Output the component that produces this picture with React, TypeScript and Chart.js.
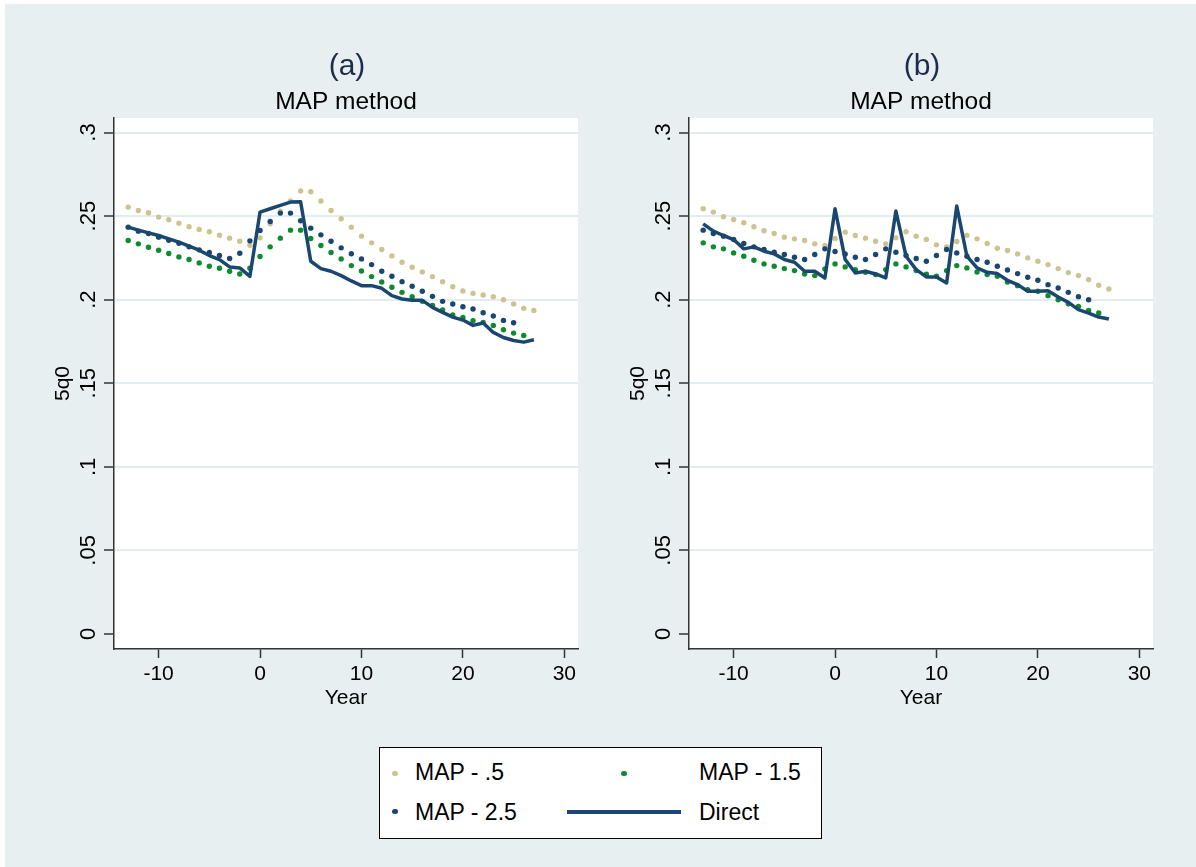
import React, { useEffect, useRef } from "react";
import { Chart, registerables } from "chart.js";
Chart.register(...registerables);

const years = [-13, -12, -11, -10, -9, -8, -7, -6, -5, -4, -3, -2, -1, 0, 1, 2, 3, 4, 5, 6, 7, 8, 9, 10, 11, 12, 13, 14, 15, 16, 17, 18, 19, 20, 21, 22, 23, 24, 25, 26, 27];

// Panel (a)
const aMap05 = [.2554, .2534, .2520, .2494, .2478, .2458, .2436, .2420, .2406, .2386, .2368, .2350, .2326, .2370, .2454, .2530, .2590, .2650, .2646, .2590, .2534, .2484, .2434, .2380, .2340, .2300, .2262, .2224, .2194, .2166, .2138, .2108, .2078, .2052, .2038, .2028, .2018, .2000, .1974, .1948, .1936];
const aMap15 = [.2354, .2334, .2314, .2296, .2276, .2256, .2240, .2220, .2200, .2188, .2170, .2154, .2188, .2258, .2316, .2368, .2416, .2416, .2366, .2324, .2282, .2244, .2204, .2172, .2138, .2106, .2074, .2044, .2018, .1990, .1966, .1938, .1908, .1894, .1874, .1864, .1846, .1820, .1800, .1786, null];
const aMap25 = [.2434, .2410, .2396, .2374, .2356, .2338, .2316, .2298, .2282, .2264, .2246, .2278, .2352, .2414, .2468, .2518, .2518, .2472, .2428, .2388, .2350, .2310, .2275, .2244, .2210, .2170, .2140, .2108, .2080, .2050, .2020, .1990, .1974, .1958, .1944, .1922, .1902, .1876, .1862, null, null];
const aDirect = [.2434, .2416, .2400, .2384, .2364, .2344, .2320, .2296, .2264, .2240, .2196, .2190, .2140, .2524, .2544, .2564, .2584, .2586, .2230, .2186, .2170, .2144, .2112, .2084, .2084, .2068, .2024, .2004, .1996, .1996, .1954, .1924, .1896, .1878, .1846, .1860, .1804, .1774, .1756, .1746, .1760];

// Panel (b)
const bMap05 = [.2544, .2524, .2496, .2480, .2460, .2436, .2412, .2396, .2374, .2364, .2354, .2334, .2324, .2366, .2404, .2384, .2368, .2350, .2334, .2370, .2406, .2380, .2360, .2328, .2316, .2348, .2384, .2364, .2336, .2308, .2294, .2274, .2250, .2230, .2210, .2186, .2162, .2144, .2120, .2086, .2064];
const bMap15 = [.2340, .2316, .2304, .2280, .2260, .2236, .2214, .2200, .2186, .2174, .2154, .2144, .2184, .2214, .2196, .2180, .2164, .2150, .2180, .2214, .2196, .2174, .2152, .2140, .2174, .2204, .2190, .2166, .2150, .2140, .2106, .2084, .2060, .2050, .2024, .2000, .1976, .1960, .1936, .1920, null];
const bMap25 = [.2416, .2396, .2380, .2360, .2336, .2316, .2300, .2284, .2270, .2254, .2240, .2270, .2304, .2288, .2274, .2254, .2240, .2270, .2304, .2284, .2264, .2246, .2230, .2264, .2300, .2280, .2260, .2240, .2224, .2200, .2178, .2156, .2134, .2116, .2090, .2070, .2044, .2018, .2000, null, null];
const bDirect = [.2454, .2410, .2384, .2360, .2304, .2316, .2290, .2274, .2240, .2224, .2170, .2170, .2130, .2544, .2240, .2160, .2170, .2154, .2130, .2530, .2260, .2180, .2136, .2136, .2100, .2560, .2260, .2190, .2164, .2156, .2116, .2090, .2050, .2050, .2054, .2016, .1984, .1940, .1920, .1896, .1884];

const yTicks = [0, 0.05, 0.1, 0.15, 0.2, 0.25, 0.3];
const yTickLabels = ["0", ".05", ".1", ".15", ".2", ".25", ".3"];
const xTicks = [-10, 0, 10, 20, 30];
const xTickLabels = ["-10", "0", "10", "20", "30"];
const panelTitles = ["(a)", "(b)"];
const panelSubtitle = "MAP method";
const xTitle = "Year";
const yTitle = "5q0";
const seriesNames = ["MAP - .5", "MAP - 1.5", "MAP - 2.5", "Direct"];
const seriesColors = ["#cdc391", "#0e8a2f", "#1a476f", "#1a476f"];

const FONT = '"Liberation Sans", Arial, Helvetica, sans-serif';
const BG = "#e8eff1";
const GRID = "#e3ecef";

type PanelProps = { title: string; s05: (number | null)[]; s15: (number | null)[]; s25: (number | null)[]; direct: (number | null)[]; left: number };

function Panel({ title, s05, s15, s25, direct, left }: PanelProps) {
  const ref = useRef<HTMLCanvasElement>(null);
  useEffect(() => {
    const toPts = (arr: (number | null)[]) => years.map((x, i) => ({ x, y: arr[i] }));
    const plugin = {
      id: "stataDecor",
      beforeDraw(chart: any) {
        const { ctx, chartArea: ca } = chart;
        ctx.save();
        ctx.fillStyle = "#ffffff";
        ctx.fillRect(ca.left, ca.top, ca.right - ca.left, ca.bottom - ca.top);
        ctx.restore();
      },
      afterDraw(chart: any) {
        const { ctx, chartArea: ca } = chart;
        const xs = chart.scales.x;
        const ys = chart.scales.y;
        const cx = (ca.left + ca.right) / 2;
        ctx.save();
        ctx.fillStyle = "#000";
        ctx.font = `21px ${FONT}`;
        ctx.textAlign = "center";
        ctx.textBaseline = "alphabetic";
        xTicks.forEach((v, i) => ctx.fillText(xTickLabels[i], xs.getPixelForValue(v), 680));
        ctx.fillText(xTitle, cx, 704);
        ctx.font = `22px ${FONT}`;
        yTicks.forEach((v, i) => {
          ctx.save();
          ctx.translate(95, ys.getPixelForValue(v));
          ctx.rotate(-Math.PI / 2);
          ctx.fillText(yTickLabels[i], 0, 0);
          ctx.restore();
        });
        ctx.font = `21px ${FONT}`;
        ctx.save();
        ctx.translate(69, (ca.top + ca.bottom) / 2);
        ctx.rotate(-Math.PI / 2);
        ctx.fillText(yTitle, 0, 0);
        ctx.restore();
        ctx.font = `30px ${FONT}`;
        ctx.fillStyle = "#1e2c4c";
        ctx.fillText(title, cx + 1, 75);
        ctx.font = `24.5px ${FONT}`;
        ctx.fillStyle = "#000";
        ctx.fillText(panelSubtitle, cx, 109);
        ctx.restore();
      },
    };
    const dots = (data: (number | null)[], color: string, order: number, label: string) => ({
      label,
      data: toPts(data),
      showLine: false,
      pointRadius: 2.7,
      pointBackgroundColor: color,
      pointBorderWidth: 0,
      borderColor: color,
      order,
    });
    const chart = new Chart(ref.current as HTMLCanvasElement, {
      type: "line",
      data: {
        datasets: [
          dots(s05, seriesColors[0], 3, seriesNames[0]),
          dots(s15, seriesColors[1], 2, seriesNames[1]),
          dots(s25, seriesColors[2], 1, seriesNames[2]),
          {
            label: seriesNames[3],
            data: toPts(direct),
            showLine: true,
            borderColor: seriesColors[3],
            borderWidth: 3.5,
            pointRadius: 0,
            tension: 0,
            borderJoinStyle: "round",
            order: 0,
          } as any,
        ],
      },
      options: {
        responsive: false,
        animation: false,
        layout: { padding: { left: 0, top: 118, right: 20, bottom: 0 } },
        plugins: { legend: { display: false }, tooltip: { enabled: false }, title: { display: false } },
        scales: {
          x: {
            type: "linear",
            min: -14.4,
            max: 31.35,
            afterBuildTicks: (s: any) => { s.ticks = xTicks.map((v) => ({ value: v })); },
            afterFit: (s: any) => { s.height = 71; },
            ticks: { display: false },
            grid: { drawOnChartArea: false, drawTicks: true, tickLength: 9, tickColor: "#333", tickWidth: 1.5 },
            border: { display: true, color: "#333", width: 1.5 },
          },
          y: {
            type: "linear",
            min: -0.009,
            max: 0.3087,
            afterBuildTicks: (s: any) => { s.ticks = yTicks.map((v) => ({ value: v })); },
            afterFit: (s: any) => { s.width = 114; },
            ticks: { display: false },
            grid: {
              color: (c: any) => (c.tick && c.tick.value === 0 ? "rgba(0,0,0,0)" : GRID),
              lineWidth: 2,
              drawTicks: true,
              tickLength: 10,
              tickColor: "#333",
              tickWidth: 1.5,
            },
            border: { display: true, color: "#333", width: 1.5 },
          },
        },
      } as any,
      plugins: [plugin],
    });
    return () => chart.destroy();
  }, []);
  return (
    <canvas
      ref={ref}
      width={598}
      height={720}
      style={{ position: "absolute", left, top: 0, width: 598, height: 720 }}
    />
  );
}

const legendText = (label: string, left: number, baseline: number) => (
  <div
    key={label}
    style={{
      position: "absolute",
      left,
      top: baseline - 19.5,
      fontFamily: FONT,
      fontSize: 23,
      lineHeight: "23px",
      color: "#000",
      whiteSpace: "nowrap",
    }}
  >
    {label}
  </div>
);

const legendDot = (color: string, cx: number, cy: number, key: string) => (
  <div
    key={key}
    style={{
      position: "absolute",
      left: cx - 2.6,
      top: cy - 2.6,
      width: 5.2,
      height: 5.2,
      borderRadius: "50%",
      background: color,
    }}
  />
);

export default function App() {
  return (
    <div style={{ position: "absolute", left: 0, top: 0, width: 1196, height: 867, background: "#fff", overflow: "hidden" }}>
      <div style={{ position: "absolute", left: 5, top: 4, width: 1191, height: 863, background: BG }} />
      <Panel title={panelTitles[0]} s05={aMap05} s15={aMap15} s25={aMap25} direct={aDirect} left={0} />
      <Panel title={panelTitles[1]} s05={bMap05} s15={bMap15} s25={bMap25} direct={bDirect} left={575} />
      <div
        style={{
          position: "absolute",
          left: 379,
          top: 747,
          width: 443,
          height: 92,
          background: "#fff",
          border: "1px solid #000",
          boxSizing: "border-box",
        }}
      />
      {legendDot(seriesColors[0], 395, 773.3, "d0")}
      {legendText(seriesNames[0], 415, 780.7)}
      {legendDot(seriesColors[1], 624, 773.3, "d1")}
      {legendText(seriesNames[1], 699, 780.7)}
      {legendDot(seriesColors[2], 395, 811.7, "d2")}
      {legendText(seriesNames[2], 415, 820)}
      <div style={{ position: "absolute", left: 567, top: 809.7, width: 114, height: 4, background: seriesColors[3] }} />
      {legendText(seriesNames[3], 699, 820)}
    </div>
  );
}
